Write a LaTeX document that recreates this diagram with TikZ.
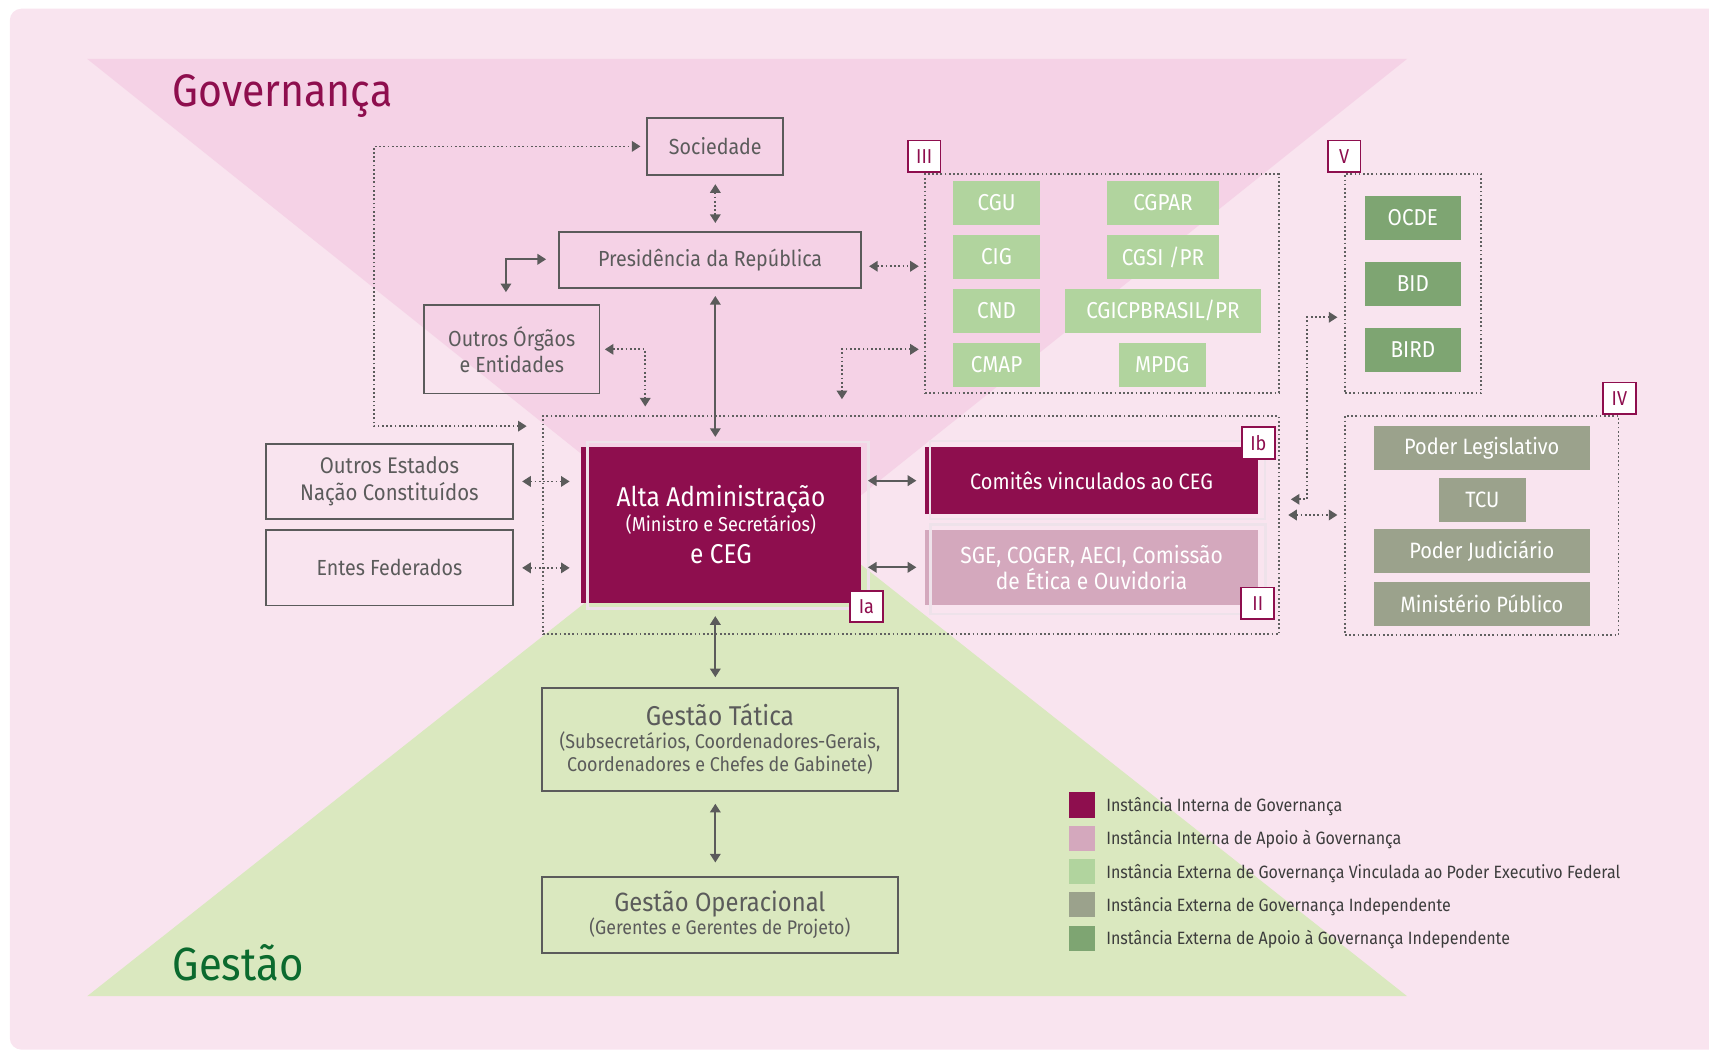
\documentclass[tikz,border=0pt]{standalone}
\usepackage{fontspec}
\setmainfont{Fira Sans}[FakeStretch=0.9]
\usetikzlibrary{arrows.meta,calc}

\definecolor{bgpink}{HTML}{F9E4EF}
\definecolor{govpink}{HTML}{F5D2E6}
\definecolor{gestgreen}{HTML}{DAE8BF}
\definecolor{ceg}{HTML}{8E0E4E}
\definecolor{mauve}{HTML}{D4A8BD}
\definecolor{extgreen}{HTML}{B1D49E}
\definecolor{indgrey}{HTML}{9BA28C}
\definecolor{supgreen}{HTML}{7EA572}
\definecolor{linegrey}{HTML}{5B5B5B}
\definecolor{dotgrey}{HTML}{616161}
\definecolor{halo}{HTML}{EEE2EA}
\definecolor{legtext}{HTML}{3C3C3C}
\definecolor{gesttext}{HTML}{0B6A2E}

\tikzset{
  wh/.style 2 args={minimum width=#1*0.02cm, minimum height=#2*0.02cm},
  orgbox/.style={draw=linegrey, line width=1pt, inner sep=0pt, align=center,
    text=linegrey, font=\fontsize{11.4}{13.5}\selectfont},
  cegbox/.style={fill=ceg, inner sep=0pt, align=center, text=white},
  extbox/.style={fill=extgreen, inner sep=0pt, text=white, font=\fontsize{12}{14}\selectfont},
  indbox/.style={fill=indgrey, inner sep=0pt, text=white, font=\fontsize{11.6}{14}\selectfont},
  supbox/.style={fill=supgreen, inner sep=0pt, text=white, font=\fontsize{12}{14}\selectfont},
  group/.style={draw=dotgrey, line width=0.9pt, dash pattern=on 0.9pt off 1.3pt, inner sep=0pt},
  tag/.style={draw=ceg, fill=white, line width=1pt, text=ceg, wh={30}{29}, inner sep=0pt,
    font=\fontsize{10.5}{12}\selectfont},
  link/.style={draw=linegrey, line width=0.9pt,
    {Triangle[length=4.5pt,width=5.5pt]}-{Triangle[length=4.5pt,width=5.5pt]}},
  dotlink/.style={link, dash pattern=on 0.9pt off 1.3pt},
  legtxt/.style={inner sep=0pt, text=legtext, font=\fontsize{9.3}{12}\selectfont},
}

\begin{document}
\begin{tikzpicture}[x=0.02cm, y=-0.02cm]

    \useasboundingbox (0,0) rectangle (1568,964);
    \clip (0,0) rectangle (1568,964);

    % background and the two triangles
    \fill[bgpink, rounded corners=6pt] (9,8) rectangle (1600,963);
    \fill[govpink] (80,54) -- (1291,54) -- (685.5,538) -- cycle;
    \fill[gestgreen] (80,914) -- (1291,914) -- (685.5,435.5) -- cycle;

    \node[anchor=base west, inner sep=0pt, text=ceg, font=\fontsize{23.8}{28}\selectfont]
        (gov) at (158,98) {Governança};
    \node[anchor=base west, inner sep=0pt, text=gesttext, font=\fontsize{24.3}{28}\selectfont]
        (gest) at (158,900) {Gestão};

    % dotted groups
    \node[group, wh={675.5}{200}] (fAlta) at (835.8,482) {};
    \node[group, wh={324.8}{201}] (fIII) at (1011.1,260.1) {};
    \node[group, wh={125}{201}] (fV) at (1296.5,260.1) {};
    \node[group, wh={251}{201}] (fIV) at (1359.5,482.1) {};

    % left column
    \node[orgbox, wh={125}{52.5}] (soc) at (656.3,134.3) {Sociedade};
    \node[orgbox, wh={277}{51}] (pres) at (651.5,238.5) {Presidência da República};
    \node[orgbox, wh={161}{81}] (outros) at (469.5,320.5) {Outros Órgãos\\e Entidades};
    \node[orgbox, wh={226}{69}, font=\fontsize{11.8}{13.9}\selectfont] (estados) at (357.3,441.7)
        {Outros Estados\\Nação Constituídos};
    \node[orgbox, wh={226}{69}] (entes) at (357.3,521) {Entes Federados};

    % internal instances
    \node[cegbox, wh={257}{143}, font=\fontsize{10.5}{12.2}\selectfont] (alta) at (661.5,481.5)
        {{\fontsize{14.2}{16}\selectfont Alta Administração}\\(Ministro e Secretários)\\[4.5pt]
         {\fontsize{14.2}{16}\selectfont e CEG}};
    \node[cegbox, wh={305}{62}, font=\fontsize{11.6}{14}\selectfont] (comites) at (1001.5,441)
        {Comitês vinculados ao CEG};
    \node[fill=mauve, inner sep=0pt, align=center, text=white, wh={305}{69},
        font=\fontsize{12.2}{13.5}\selectfont] (sge) at (1001.5,520.5)
        {SGE, COGER, AECI, Comissão\\de Ética e Ouvidoria};

    \draw[halo, line width=1.2pt] ($(alta.north west)+(6.5,-4)$) rectangle ($(alta.south east)+(6.5,5)$);
    \draw[halo, line width=1.2pt] ($(comites.north west)+(4.5,-5)$) rectangle ($(comites.south east)+(6,4)$);
    \draw[halo, line width=1.2pt] ($(sge.north west)+(5,-4.3)$) rectangle ($(sge.south east)+(6.6,7.7)$);

    % management
    \node[orgbox, wh={327}{95}, font=\fontsize{10.4}{12}\selectfont] (tatica) at (660.5,678.5)
        {{\fontsize{14.2}{16}\selectfont Gestão Tática}\\(Subsecretários, Coordenadores-Gerais,\\
         Coordenadores e Chefes de Gabinete)};
    \node[orgbox, wh={327}{69}, font=\fontsize{10.3}{12.2}\selectfont] (operac) at (660.5,839.5)
        {{\fontsize{13.8}{16}\selectfont Gestão Operacional}\\(Gerentes e Gerentes de Projeto)};

    % group III
    \foreach \n/\t/\y in {cgu/CGU/186.2, cig/CIG/235.8, cnd/CND/285.2, cmap/CMAP/334.8}
        \node[extbox, wh={80}{40.4}] (\n) at (914.3,\y) {\t};
    \node[extbox, wh={102.8}{40.4}] (cgpar) at (1067,186.2) {CGPAR};
    \node[extbox, wh={102.8}{40.4}] (cgsi) at (1067,235.8) {CGSI /PR};
    \node[extbox, wh={180}{40.4}] (cgicp) at (1067,285.2) {CGICPBRASIL/PR};
    \node[extbox, wh={79.6}{40.4}] (mpdg) at (1066.4,334.8) {MPDG};

    % group V
    \foreach \n/\t/\y in {ocde/OCDE/200, bid/BID/260.5, bird/BIRD/321.1}
        \node[supbox, wh={87.5}{40.3}] (\n) at (1296.3,\y) {\t};

    % group IV
    \node[indbox, wh={198}{40}] (legis) at (1359.5,411) {Poder Legislativo};
    \node[indbox, wh={80}{39.6}] (tcu) at (1360,458.8) {TCU};
    \node[indbox, wh={198}{40}] (judic) at (1359.5,505.5) {Poder Judiciário};
    \node[indbox, wh={198}{40}] (mpub) at (1359.5,554) {Ministério Público};

    % tags
    \node[tag, anchor=south] (tIII) at (fIII.north west) {III};
    \node[tag, anchor=south] (tV) at (fV.north west) {V};
    \node[tag, anchor=south] (tIV) at (fIV.north east) {IV};
    \node[tag] (tIa) at (795,556.5) {Ia};
    \node[tag] (tIb) at (1154.6,406.3) {Ib};
    \node[tag] (tII) at (1154,553.5) {II};

    % connectors
    \coordinate (sbend) at (343,391);
    \draw[dotlink, shorten <=8pt, shorten >=3pt] (sbend -| fAlta.west) -- (sbend) |- (soc.west);
    \draw[dotlink, shorten <=4.3pt, shorten >=4.3pt] (soc.south) -- (soc.south |- pres.north);
    \coordinate (pr) at ($(pres.east)+(0,5.8)$);
    \draw[dotlink, shorten <=3.7pt, shorten >=2.8pt] (pr) -- (pr -| fIII.west);
    \coordinate (pbend) at (464.2,237.9);
    \draw[link, shorten <=6.3pt, shorten >=6.3pt] (pbend -| pres.west) -- (pbend) -- (pbend |- outros.north);
    \coordinate (obend) at (592,320.5);
    \draw[dotlink, shorten <=2.3pt, shorten >=4.7pt] (outros.east) -- (obend) -- (obend |- fAlta.north);
    \coordinate (ibend) at (772.5,320.5);
    \draw[dotlink, shorten <=2.8pt, shorten >=8.5pt] (ibend -| fIII.west) -- (ibend) -- (ibend |- fAlta.north);
    \draw[link, shorten <=3.8pt, shorten >=5pt] (soc.south |- pres.south) -- (soc.south |- alta.north);
    \draw[dotlink, shorten <=4.5pt, shorten >=5.7pt] (estados.east) -- (estados.east -| alta.west);
    \draw[dotlink, shorten <=4.5pt, shorten >=5.7pt] (entes.east) -- (entes.east -| alta.west);
    \draw[link, shorten <=3.4pt, shorten >=4.5pt] (comites.west -| alta.east) -- (comites.west);
    \draw[link, shorten <=3.4pt, shorten >=4.5pt] (sge.west -| alta.east) -- (sge.west);
    \draw[link, shorten <=6.8pt, shorten >=5pt] (soc.south |- alta.south) -- (soc.south |- tatica.north);
    \draw[link, shorten <=6pt, shorten >=7.3pt] (soc.south |- tatica.south) -- (soc.south |- operac.north);
    \coordinate (vbend) at (1199.4,291.1);
    \coordinate (vlow) at (1199.4,458.1);
    \draw[dotlink, shorten <=5.7pt, shorten >=3.5pt] (vlow -| fAlta.east) -- (vlow) -- (vbend) -- (vbend -| fV.west);
    \coordinate (ivy) at (1200,472.5);
    \draw[dotlink, shorten <=4.3pt, shorten >=3.5pt] (ivy -| fAlta.east) -- (ivy -| fIV.west);

    % legend
    \foreach \c/\t [count=\i from 0] in {ceg/Instância Interna de Governança,
        mauve/Instância Interna de Apoio à Governança,
        extgreen/Instância Externa de Governança Vinculada ao Poder Executivo Federal,
        indgrey/Instância Externa de Governança Independente,
        supgreen/Instância Externa de Apoio à Governança Independente} {
        \node[fill=\c, wh={24}{23}, inner sep=0pt] (sq\i) at (992.7,738.6+30.55*\i) {};
        \node[legtxt, anchor=base west] (lg\i) at (1014.7,744.7+30.55*\i) {\t};
    }

\end{tikzpicture}
\end{document}
